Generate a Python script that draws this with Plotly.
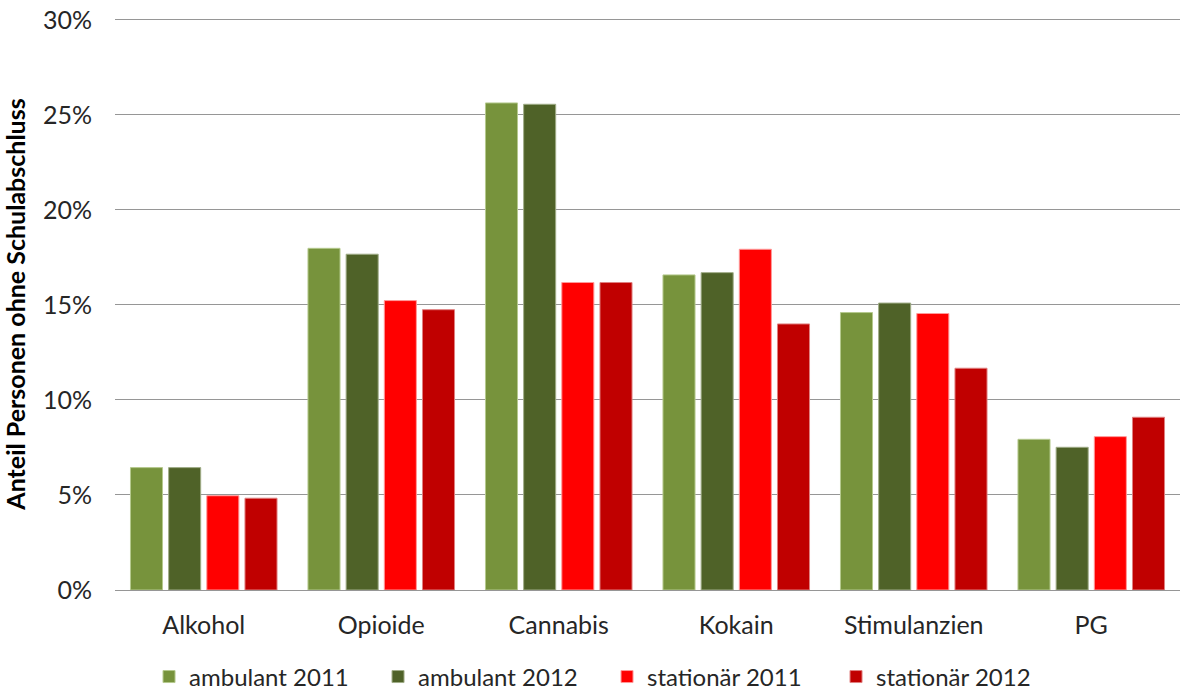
import plotly.graph_objects as go

categories = ["Alkohol", "Opioide", "Cannabis", "Kokain", "Stimulanzien", "PG"]
series_names = ["ambulant 2011", "ambulant 2012", "stationär 2011", "stationär 2012"]
ambulant_2011 = [6.44, 17.98, 25.63, 16.58, 14.60, 7.93]
ambulant_2012 = [6.44, 17.67, 25.56, 16.70, 15.10, 7.51]
stationaer_2011 = [4.96, 15.23, 16.18, 17.93, 14.55, 8.07]
stationaer_2012 = [4.83, 14.75, 16.18, 14.00, 11.67, 9.09]
y_ticks = [0, 5, 10, 15, 20, 25, 30]
y_ticklabels = ["0%", "5%", "10%", "15%", "20%", "25%", "30%"]

colors = ["#77933C", "#4F6228", "#FF0000", "#C00000"]
outline = ["#B5C98E", "#A0AD88", "#FF9999", "#E08080"]
values = [ambulant_2011, ambulant_2012, stationaer_2011, stationaer_2012]

font_family = "Lato, Open Sans, sans-serif"

fig = go.Figure()
for name, vals, c, oc in zip(series_names, values, colors, outline):
    fig.add_trace(go.Bar(
        x=categories, y=vals, name=name,
        marker=dict(color=c, line=dict(color=oc, width=1)),
    ))

fig.update_layout(
    width=1180, height=692,
    margin=dict(l=115, r=0, t=18, b=102, autoexpand=False),
    paper_bgcolor="white", plot_bgcolor="white",
    barmode="group", bargap=0.14, bargroupgap=0.16,
    font=dict(family=font_family, color="#262626", size=25),
    showlegend=True,
    legend=dict(orientation="h", x=0.462, xanchor="center", y=-0.152, yanchor="middle",
                font=dict(size=24, color="#262626"), itemwidth=30,
                entrywidth=184, entrywidthmode="pixels",
                traceorder="normal", itemclick=False),
    xaxis=dict(showgrid=False, showline=False, ticks="", tickfont=dict(size=25),
               ticklabelstandoff=18, automargin=False),
    yaxis=dict(range=[0, 30.1], tickvals=y_ticks, ticktext=y_ticklabels,
               showgrid=True, gridcolor="#969696", gridwidth=1,
               zeroline=True, zerolinecolor="#969696", zerolinewidth=1,
               showline=False, ticks="", tickfont=dict(size=25),
               ticklabelstandoff=22, automargin=False,
               title=dict(text="<b>Anteil Personen ohne Schulabschluss</b>",
                          font=dict(size=25, color="#000000"), standoff=12)),
)

fig.write_html("out.html", config={"displayModeBar": False},
               post_script="document.body.style.margin='0';document.body.style.overflow='hidden';")
